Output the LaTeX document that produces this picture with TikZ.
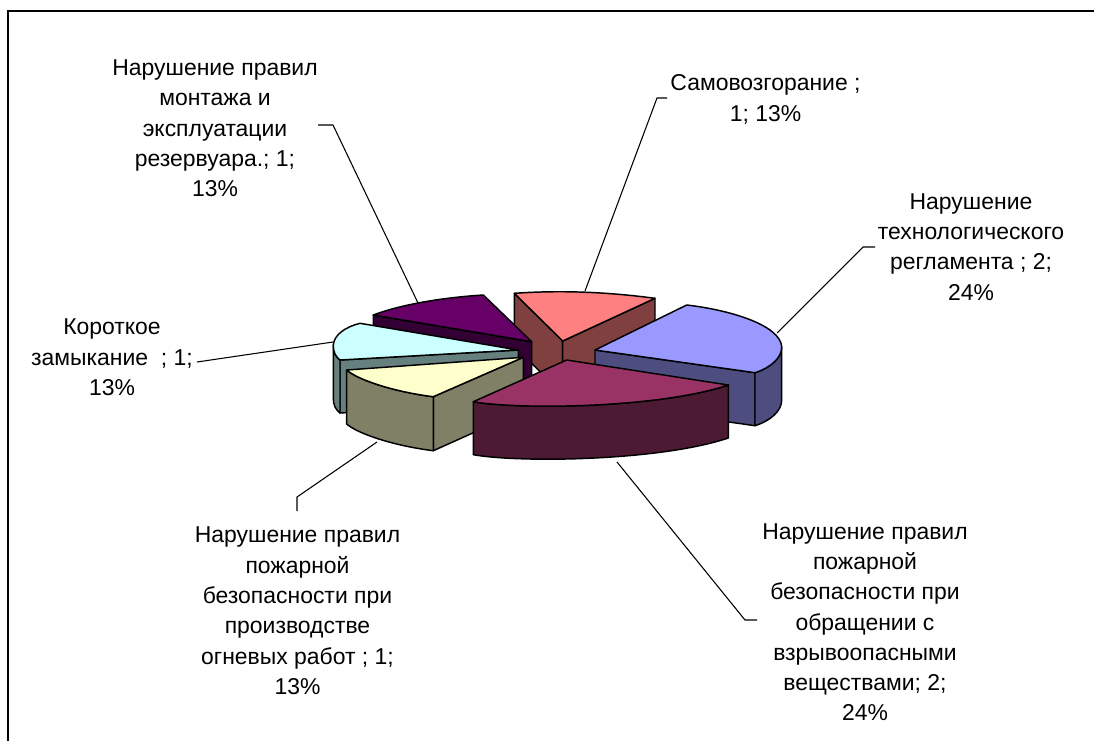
\documentclass[tikz,border=0pt]{standalone}
\usepackage{fontspec}
\setmainfont{Liberation Sans}
\definecolor{salTop}{HTML}{FF8080}
\definecolor{salSide}{HTML}{804040}
\definecolor{purTop}{HTML}{660066}
\definecolor{purSide}{HTML}{330033}
\definecolor{bluTop}{HTML}{9999FF}
\definecolor{bluSide}{HTML}{4D4D80}
\definecolor{cyaTop}{HTML}{CCFFFF}
\definecolor{cyaSide}{HTML}{668080}
\definecolor{yelTop}{HTML}{FFFFCC}
\definecolor{yelSide}{HTML}{808066}
\definecolor{magTop}{HTML}{993366}
\definecolor{magSide}{HTML}{4D1A33}
\begin{document}
\begin{tikzpicture}[x=0.75pt,y=-0.75pt,
  lbl/.style={align=center, inner sep=0pt, font=\fontsize{17.2}{22.7}\selectfont, anchor=base},
  leader/.style={draw=black, line width=0.8pt},
  face/.style={draw=black, line width=1.1pt, line join=round},
  frameline/.style={draw=black, line width=1.6pt}]
\useasboundingbox (0,0) rectangle (1094,740);
\fill[white] (0,0) rectangle (1094,740);
\draw[frameline] (8,745) -- (8,11) -- (1100,11);

% ---- salmon: Самовозгорание ----
\fill[salSide,face] (514.3,293.3) -- (562.7,341) -- (562.7,394) -- (514.3,346.3) -- cycle;
\fill[salSide,face] (562.7,341) -- (655,298.3) -- (655,351.3) -- (562.7,394) -- cycle;
\fill[salTop,face] (514.3,293.3) .. controls (561,290) and (608,292) .. (655,298.3) -- (562.7,341) -- cycle;

% ---- purple: монтажа ----
\fill[purSide,face] (373.3,315) -- (531.7,341.7) -- (531.7,394.7) -- (373.3,368) -- cycle;
\fill[purTop,face] (373.3,315) .. controls (405,303) and (450,297) .. (483.3,295) -- (531.7,341.7) -- cycle;

% ---- blue: технологического регламента ----
\fill[bluSide,face] (595,350) -- (755,372.7) -- (755,425.7) -- (595,403) -- cycle;
\fill[bluSide,face] (781.7,346.7) .. controls (782,358) and (770,368) .. (755,372.7)
   -- (755,425.7) .. controls (770,421) and (782,411) .. (781.7,399.7) -- cycle;
\fill[bluTop,face] (595,350) -- (686.7,305) .. controls (730,310) and (780,325) .. (781.7,346.7)
   .. controls (782,358) and (770,368) .. (755,372.7) -- cycle;

% ---- cyan: Короткое замыкание ----
\fill[cyaSide,face] (340,360) -- (518.3,350) -- (518.3,403) -- (340,413) -- cycle;
\fill[cyaSide,face] (333.3,345) .. controls (333,352) and (336,357) .. (340,360)
   -- (340,413) .. controls (336,410) and (333,405) .. (333.3,398) -- cycle;
\fill[cyaTop,face] (518.3,350) -- (360,323.3) .. controls (345,327) and (334,335) .. (333.3,345)
   .. controls (333,352) and (336,357) .. (340,360) -- cycle;

% ---- yellow: огневых работ ----
\fill[yelSide,face] (433.3,396.7) -- (523.3,357.3) -- (523.3,410.3) -- (433.3,450.7) -- cycle;
\fill[yelSide,face] (346.7,370) .. controls (358,380) and (395,392) .. (433.3,396.7)
   -- (433.3,450.7) .. controls (395,446) and (358,434) .. (346.7,424) -- cycle;
\fill[yelTop,face] (523.3,357.3) -- (346.7,370) .. controls (358,380) and (395,392) .. (433.3,396.7) -- cycle;

% ---- magenta: взрывоопасными ----
\fill[magSide,face] (473.3,401.7) .. controls (520,410) and (660,408) .. (728.3,385)
   -- (728.3,438) .. controls (660,461) and (520,463) .. (473.3,454.7) -- cycle;
\fill[magTop,face] (566.7,360) -- (473.3,401.7) .. controls (520,410) and (660,408) .. (728.3,385) -- cycle;

% ---- labels (anchor = baseline of the last line) ----
\node[lbl] (samo) at (765.5,121.2) {Самовозгорание ;\\1; 13\%};
\node[lbl] (tech) at (971,300) {Нарушение\\технологического\\регламента ; 2;\\24\%};
\node[lbl] (mont) at (215,196.6) {Нарушение правил\\монтажа и\\эксплуатации\\резервуара.; 1;\\13\%};
\node[lbl] (kz) at (112,395.3) {Короткое\\замыкание \ ; 1;\\13\%};
\node[lbl] (ogn) at (297.5,694.3) {Нарушение правил\\пожарной\\безопасности при\\производстве\\огневых работ ; 1;\\13\%};
\node[lbl] (vzr) at (865,720.9) {Нарушение правил\\пожарной\\безопасности при\\обращении с\\взрывоопасными\\веществами; 2;\\24\%};

% ---- leader lines ----
\coordinate (samoA) at (667,98);  \coordinate (samoB) at (657,98);  \coordinate (samoP) at (585,291);
\coordinate (techA) at (875,247); \coordinate (techB) at (863,247); \coordinate (techP) at (777,333);
\coordinate (montA) at (318,125); \coordinate (montB) at (333,125); \coordinate (montP) at (418,303);
\coordinate (kzA) at (197,362);   \coordinate (kzP) at (333,342);
\coordinate (ognA) at (297,511);  \coordinate (ognB) at (297,497);  \coordinate (ognP) at (377,442);
\coordinate (vzrA) at (757,620);  \coordinate (vzrB) at (745,620);  \coordinate (vzrP) at (617,462);
\draw[leader] (samoA) -- (samoB) -- (samoP);
\draw[leader] (techA) -- (techB) -- (techP);
\draw[leader] (montA) -- (montB) -- (montP);
\draw[leader] (kzA) -- (kzP);
\draw[leader] (ognA) -- (ognB) -- (ognP);
\draw[leader] (vzrA) -- (vzrB) -- (vzrP);
\end{tikzpicture}
\end{document}
